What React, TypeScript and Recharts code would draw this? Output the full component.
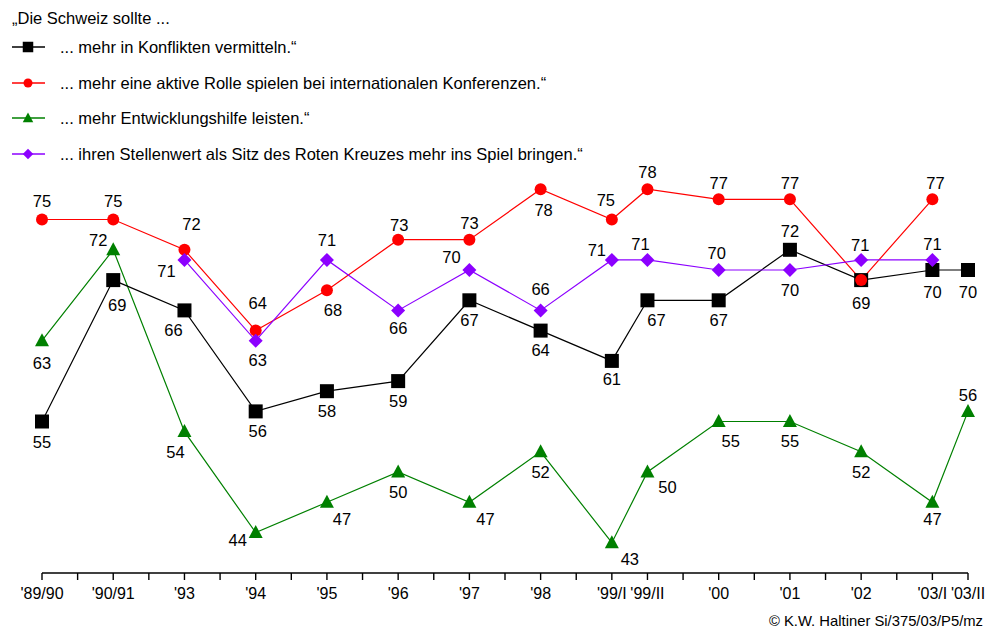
import React from 'react';
import { LineChart, Line, XAxis, YAxis } from 'recharts';

// x positions of the survey waves (half steps for the two-wave years)
const waves = ["'89/90", "'90/91", "'93", "'94", "'95", "'96", "'97", "'98", "'99/I", "'99/II", "'00", "'01", "'02", "'03/I", "'03/II"];
const wavePos = [0, 1, 2, 3, 4, 5, 6, 7, 8, 8.5, 9.5, 10.5, 11.5, 12.5, 13];
const axisTicks = [0, 0.5, 1, 1.5, 2, 2.5, 3, 3.5, 4, 4.5, 5, 5.5, 6, 6.5, 7, 7.5, 8, 8.5, 9, 9.5, 10, 10.5, 11, 11.5, 12, 12.5, 13];

const konflikte = [55, 69, 66, 56, 58, 59, 67, 64, 61, 67, 67, 72, 69, 70, 70];
const konferenzen = [75, 75, 72, 64, 68, 73, 73, 78, 75, 78, 77, 77, 69, 77, null];
const entwicklung = [63, 72, 54, 44, 47, 50, 47, 52, 43, 50, 55, 55, 52, 47, 56];
const rotesKreuz = [null, null, 71, 63, 71, 66, 70, 66, 71, 71, 70, 70, 71, 71, null];

const legendTitle = '„Die Schweiz sollte ...';
const seriesNames = [
  '... mehr in Konflikten vermitteln.“',
  '... mehr eine aktive Rolle spielen bei internationalen Konferenzen.“',
  '... mehr Entwicklungshilfe leisten.“',
  '... ihren Stellenwert als Sitz des Roten Kreuzes mehr ins Spiel bringen.“',
];

const data = wavePos.map((x, i) => ({
  x,
  black: konflikte[i],
  red: konferenzen[i],
  green: entwicklung[i],
  purple: rotesKreuz[i],
}));

// label offsets (dx, dy) from each marker, null = no label
type Off = [number, number] | null;
const blackOff: Off[] = [[0, 20], [4, 25], [-11, 20], [2, 20], [0, 20], [0, 20], [0, 20], [0, 19], [0, 18], [9, 20], [0, 20], [0, -19], [0, 23], [0, 22], [0, 22]];
const redOff: Off[] = [[0, -19], [0, -19], [7, -26], [2, -28], [6, 20], [1, -15], [0, -17], [3, 21], [-6, -20], [0, -17], [0, -16], [0, -16], null, [3, -16], null];
const greenOff: Off[] = [[0, 22], [-15, -10], [-9, 20], [-18, 7], [15, 17], [0, 20], [16, 17], [0, 20], [18, 16], [20, 15], [12, 19], [0, 19], [0, 20], [0, 17], [0, -16]];
const purpleOff: Off[] = [null, null, [-18, 11], [2, 19], [0, -20], [0, 18], [-18, -13], [0, -21], [-15, -10], [-7, -16], [-2, -17], [0, 20], [-1, -15], [0, -16], null];

const FONT = 'Arial, "Liberation Sans", Helvetica, sans-serif';

const Marker = ({ kind, cx, cy, color, s = 1 }: { kind: string; cx: number; cy: number; color: string; s?: number }) => {
  if (kind === 'square') return <rect x={cx - 7 * s} y={cy - 7 * s} width={14 * s} height={14 * s} fill={color} />;
  if (kind === 'circle') return <circle cx={cx} cy={cy} r={6 * s} fill={color} />;
  if (kind === 'triangle')
    return <polygon points={`${cx},${cy - 7.5 * s} ${cx + 7 * s},${cy + 5.5 * s} ${cx - 7 * s},${cy + 5.5 * s}`} fill={color} />;
  return <polygon points={`${cx},${cy - 7 * s} ${cx + 7 * s},${cy} ${cx},${cy + 7 * s} ${cx - 7 * s},${cy}`} fill={color} />;
};

const makeDot = (kind: string, color: string, offs: Off[]) => (props: any) => {
  const { cx, cy, value, index } = props;
  if (value == null || cx == null || cy == null) return <g key={`d-${kind}-${index}`} />;
  const off = offs[index];
  return (
    <g key={`d-${kind}-${index}`}>
      <Marker kind={kind} cx={cx} cy={cy} color={color} />
      {off && (
        <text x={cx + off[0]} y={cy + off[1]} textAnchor="middle" dominantBaseline="central"
          fontSize={16.5} fontFamily={FONT} fill="#000">
          {value}
        </text>
      )}
    </g>
  );
};

const WaveTick = (props: any) => {
  const { x, y, payload } = props;
  const i = wavePos.indexOf(payload.value);
  if (i < 0) return <g />;
  return (
    <text x={x} y={y + 17} textAnchor="middle" fontSize={16} fontFamily={FONT} fill="#000">
      {waves[i]}
    </text>
  );
};

const legendItems = [
  { kind: 'square', color: '#000000' },
  { kind: 'circle', color: '#ff0000' },
  { kind: 'triangle', color: '#008000' },
  { kind: 'diamond', color: '#8c00ff' },
];

export default function App() {
  return (
    <div style={{ position: 'relative', width: 988, height: 630, background: '#fff', fontFamily: FONT }}>
      <style>{'body{margin:0}'}</style>
      <div style={{ position: 'absolute', left: 12, top: 8, fontSize: 16.5, lineHeight: '20px', whiteSpace: 'nowrap' }}>{legendTitle}</div>
      {seriesNames.map((name, i) => {
        const y = 47 + i * 35.7;
        const it = legendItems[i];
        return (
          <div key={name}>
            <svg style={{ position: 'absolute', left: 0, top: y - 10 }} width={50} height={20}>
              <line x1={12} x2={45} y1={10} y2={10} stroke={it.color} strokeWidth={1.3} />
              <Marker kind={it.kind} cx={28} cy={10} color={it.color} s={0.75} />
            </svg>
            <div style={{ position: 'absolute', left: 60, top: y - 10, fontSize: 16.5, lineHeight: '20px', whiteSpace: 'nowrap' }}>
              {name}
            </div>
          </div>
        );
      })}
      <div style={{ position: 'absolute', right: 5, top: 612, fontSize: 14.8, lineHeight: '18px', whiteSpace: 'nowrap' }}>
        © K.W. Haltiner Si/375/03/P5/mz
      </div>
      <div style={{ position: 'absolute', left: 0, top: 0 }}>
        <LineChart width={988} height={630} data={data} margin={{ top: 169, right: 20, left: 42, bottom: 27 }}>
          <XAxis
            dataKey="x"
            type="number"
            domain={[0, 13]}
            ticks={axisTicks}
            interval={0}
            tick={<WaveTick />}
            tickSize={7}
            height={30}
            stroke="#000"
            strokeWidth={1.4}
          />
          <YAxis hide domain={[40, 80]} />
          <Line dataKey="green" stroke="#008000" strokeWidth={1.2} dot={makeDot('triangle', '#008000', greenOff)} isAnimationActive={false} />
          <Line dataKey="black" stroke="#000000" strokeWidth={1.2} dot={makeDot('square', '#000000', blackOff)} isAnimationActive={false} />
          <Line dataKey="red" stroke="#ff0000" strokeWidth={1.2} dot={makeDot('circle', '#ff0000', redOff)} isAnimationActive={false} />
          <Line dataKey="purple" stroke="#8c00ff" strokeWidth={1.2} dot={makeDot('diamond', '#8c00ff', purpleOff)} isAnimationActive={false} />
        </LineChart>
      </div>
    </div>
  );
}
